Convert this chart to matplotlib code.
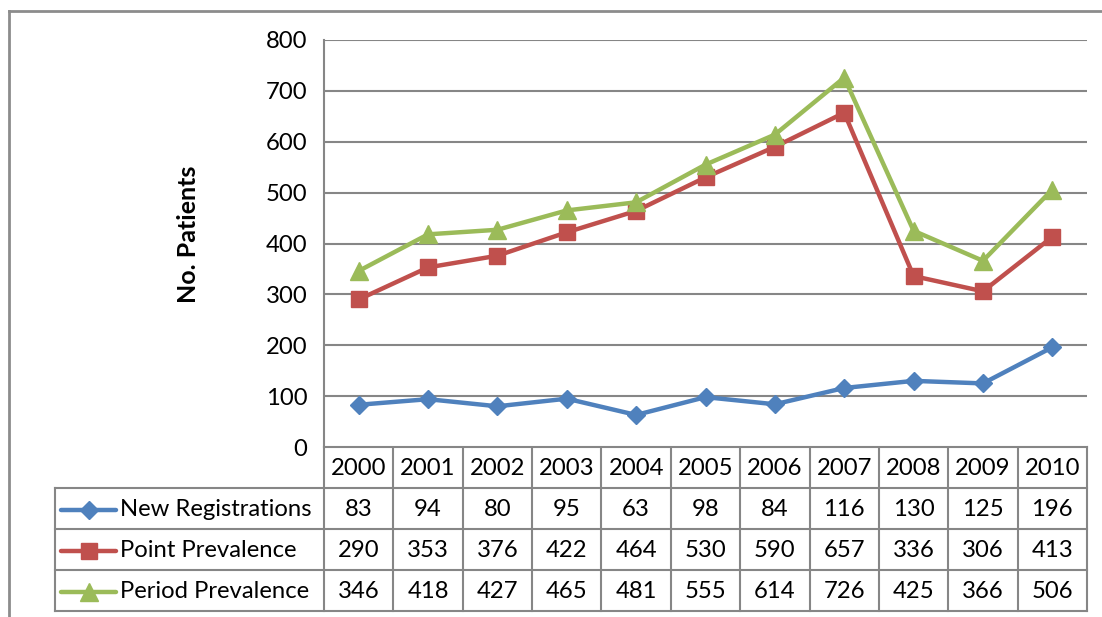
import matplotlib
matplotlib.use("Agg")
import matplotlib.pyplot as plt
from matplotlib.lines import Line2D

plt.rcParams['font.family'] = ['Lato', 'DejaVu Sans']

years = ["2000", "2001", "2002", "2003", "2004", "2005",
         "2006", "2007", "2008", "2009", "2010"]
new_registrations = [83, 94, 80, 95, 63, 98, 84, 116, 130, 125, 196]
point_prevalence = [290, 353, 376, 422, 464, 530, 590, 657, 336, 306, 413]
period_prevalence = [346, 418, 427, 465, 481, 555, 614, 726, 425, 366, 506]

series = [
    ("New Registrations", new_registrations, "#4F81BD", "D", 9.5),
    ("Point Prevalence", point_prevalence, "#C0504D", "s", 11),
    ("Period Prevalence", period_prevalence, "#9BBB59", "^", 13),
]

W, H = 1102, 617
fig = plt.figure(figsize=(W / 100, H / 100), dpi=100)

# plot area geometry (pixels)
px0, px1 = 324, 1087
py_top, py_bot = 40, 447
row_h = 41
grid_c = "#868686"
fs = 17.2

ax = fig.add_axes([px0 / W, 1 - py_bot / H, (px1 - px0) / W, (py_bot - py_top) / H])
n = len(years)
xs = list(range(n))
for name, vals, col, mk, ms in series:
    ax.plot(xs, vals, color=col, lw=3.2, marker=mk, markersize=ms,
            markerfacecolor=col, markeredgecolor=col, zorder=3)
ax.set_xlim(-0.5, n - 0.5)
ax.set_ylim(0, 800)
ax.set_yticks(range(0, 801, 100))
ax.yaxis.grid(True, color=grid_c, lw=1.5)
ax.set_axisbelow(True)
ax.set_xticks([])
for s in ("top", "right", "bottom"):
    ax.spines[s].set_visible(False)
ax.spines["left"].set_color(grid_c)
ax.spines["left"].set_linewidth(1.5)
ax.tick_params(axis="y", length=0, pad=12, labelsize=fs)
ax.set_ylabel("No. Patients", fontsize=18, fontweight="bold")
ax.yaxis.set_label_coords(-0.1625, 0.522)

# data table drawn in pixel space underneath the plot
ov = fig.add_axes([0, 0, 1, 1], zorder=-1)
ov.set_xlim(0, W)
ov.set_ylim(H, 0)
ov.axis("off")

col_w = (px1 - px0) / n
tx0 = 55
line_kw = dict(color=grid_c, lw=1.5)
rows_top = py_bot + row_h
rows_bot = rows_top + row_h * len(series)

# chart border
ov.plot([9, W], [11, 11], color="#8c8c8c", lw=2)
ov.plot([9, 9], [11, H], color="#8c8c8c", lw=2)

# header row lines
ov.plot([px0, px1], [py_bot, py_bot], **line_kw)
for i in range(n + 1):
    ov.plot([px0 + i * col_w] * 2, [py_bot, rows_bot], **line_kw)
ov.plot([tx0, tx0], [rows_top, rows_bot], **line_kw)
for r in range(len(series) + 1):
    ov.plot([tx0, px1], [rows_top + r * row_h] * 2, **line_kw)

for i, y in enumerate(years):
    ov.text(px0 + (i + 0.5) * col_w, py_bot + row_h / 2 + 1, y,
            ha="center", va="center", fontsize=fs)

for r, (name, vals, col, mk, ms) in enumerate(series):
    yc = rows_top + (r + 0.5) * row_h + 1
    ov.add_line(Line2D([61, 116], [yc, yc], color=col, lw=3.2,
                       solid_capstyle="round"))
    ov.plot([88.5], [yc], marker=mk, markersize=ms, color=col)
    ov.text(120, yc, name, ha="left", va="center", fontsize=fs)
    for i, v in enumerate(vals):
        ov.text(px0 + (i + 0.5) * col_w, yc, str(v),
                ha="center", va="center", fontsize=fs)

fig.savefig("out.png", dpi=100)
